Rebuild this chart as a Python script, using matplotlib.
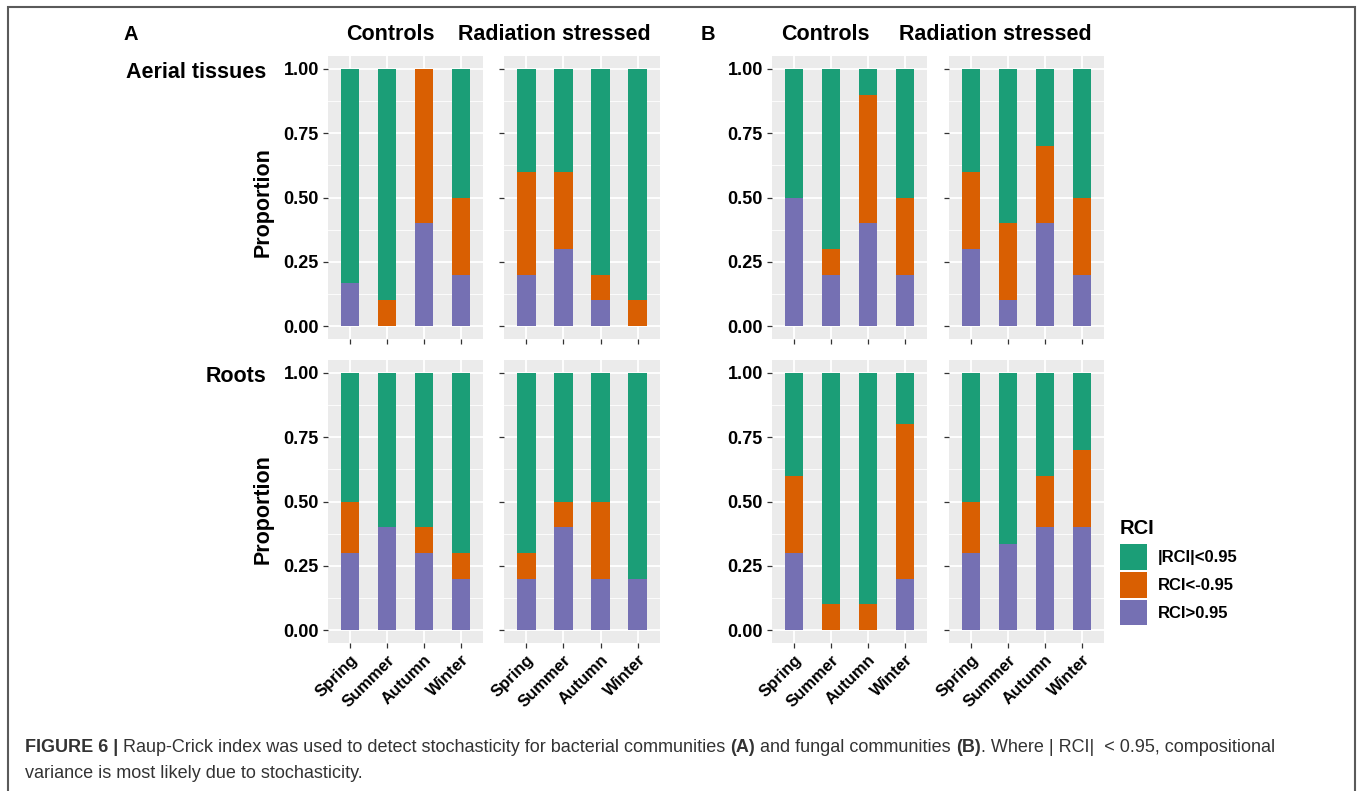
import numpy as np
import matplotlib
matplotlib.use("Agg")
import matplotlib.pyplot as plt
from matplotlib.patches import Patch, Rectangle

plt.rcParams['font.family'] = ['Liberation Sans', 'DejaVu Sans']

seasons = ['Spring', 'Summer', 'Autumn', 'Winter']
rci_labels = ['|RCI|<0.95', 'RCI<-0.95', 'RCI>0.95']
rci_colors = ['#1B9E77', '#D95F02', '#7570B3']

# proportion of pairwise comparisons in each RCI class, per season
# (A) bacteria, aerial tissues
bac_aer_ctrl_pos = [0.167, 0.0, 0.4, 0.2]
bac_aer_ctrl_neg = [0.0, 0.1, 0.6, 0.3]
bac_aer_ctrl_ns = [0.833, 0.9, 0.0, 0.5]
bac_aer_rad_pos = [0.2, 0.3, 0.1, 0.0]
bac_aer_rad_neg = [0.4, 0.3, 0.1, 0.1]
bac_aer_rad_ns = [0.4, 0.4, 0.8, 0.9]
# (A) bacteria, roots
bac_root_ctrl_pos = [0.3, 0.4, 0.3, 0.2]
bac_root_ctrl_neg = [0.2, 0.0, 0.1, 0.1]
bac_root_ctrl_ns = [0.5, 0.6, 0.6, 0.7]
bac_root_rad_pos = [0.2, 0.4, 0.2, 0.2]
bac_root_rad_neg = [0.1, 0.1, 0.3, 0.0]
bac_root_rad_ns = [0.7, 0.5, 0.5, 0.8]
# (B) fungi, aerial tissues
fun_aer_ctrl_pos = [0.5, 0.2, 0.4, 0.2]
fun_aer_ctrl_neg = [0.0, 0.1, 0.5, 0.3]
fun_aer_ctrl_ns = [0.5, 0.7, 0.1, 0.5]
fun_aer_rad_pos = [0.3, 0.1, 0.4, 0.2]
fun_aer_rad_neg = [0.3, 0.3, 0.3, 0.3]
fun_aer_rad_ns = [0.4, 0.6, 0.3, 0.5]
# (B) fungi, roots
fun_root_ctrl_pos = [0.3, 0.0, 0.0, 0.2]
fun_root_ctrl_neg = [0.3, 0.1, 0.1, 0.6]
fun_root_ctrl_ns = [0.4, 0.9, 0.9, 0.2]
fun_root_rad_pos = [0.3, 0.333, 0.4, 0.4]
fun_root_rad_neg = [0.2, 0.0, 0.2, 0.3]
fun_root_rad_ns = [0.5, 0.667, 0.4, 0.3]

W, H = 1360, 791
fig = plt.figure(figsize=(W / 100, H / 100), dpi=100)


def px_rect(x0, x1, y0, y1):
    return [x0 / W, 1 - y1 / H, (x1 - x0) / W, (y1 - y0) / H]


def stacked(ax, pos, neg, ns, xlabels, ylabels):
    x = np.arange(1, len(seasons) + 1)
    pos, neg, ns = np.array(pos), np.array(neg), np.array(ns)
    ax.bar(x, pos, 0.5, color=rci_colors[2])
    ax.bar(x, neg, 0.5, bottom=pos, color=rci_colors[1])
    ax.bar(x, ns, 0.5, bottom=pos + neg, color=rci_colors[0])
    ax.set_facecolor('#EBEBEB')
    ax.set_xlim(0.4, 4.6)
    ax.set_ylim(-0.05, 1.05)
    ax.set_xticks(x)
    ax.set_yticks([0, 0.25, 0.5, 0.75, 1.0])
    ax.set_yticks([0.125, 0.375, 0.625, 0.875], minor=True)
    ax.grid(which='major', color='white', lw=1.3)
    ax.grid(which='minor', axis='y', color='white', lw=0.6)
    ax.set_axisbelow(True)
    for s in ax.spines.values():
        s.set_visible(False)
    ax.tick_params(which='major', length=3.5, width=0.9, color='#333333',
                   labelsize=13, pad=3)
    ax.tick_params(which='minor', length=0)
    if xlabels:
        ax.set_xticklabels(seasons, rotation=45, ha='right',
                           rotation_mode='anchor', fontweight='bold',
                           fontsize=12)
    else:
        ax.set_xticklabels([])
    if ylabels:
        ax.set_yticklabels(['0.00', '0.25', '0.50', '0.75', '1.00'],
                           fontweight='bold')
    else:
        ax.set_yticklabels([])


cols = [(328, 483), (504, 660), (772, 927), (949, 1104)]
rows = [(56, 339), (360, 643)]

panels = [
    (0, 0, bac_aer_ctrl_pos, bac_aer_ctrl_neg, bac_aer_ctrl_ns),
    (0, 1, bac_aer_rad_pos, bac_aer_rad_neg, bac_aer_rad_ns),
    (0, 2, fun_aer_ctrl_pos, fun_aer_ctrl_neg, fun_aer_ctrl_ns),
    (0, 3, fun_aer_rad_pos, fun_aer_rad_neg, fun_aer_rad_ns),
    (1, 0, bac_root_ctrl_pos, bac_root_ctrl_neg, bac_root_ctrl_ns),
    (1, 1, bac_root_rad_pos, bac_root_rad_neg, bac_root_rad_ns),
    (1, 2, fun_root_ctrl_pos, fun_root_ctrl_neg, fun_root_ctrl_ns),
    (1, 3, fun_root_rad_pos, fun_root_rad_neg, fun_root_rad_ns),
]
for r, c, pos, neg, ns in panels:
    ax = fig.add_axes(px_rect(cols[c][0], cols[c][1], rows[r][0], rows[r][1]))
    stacked(ax, pos, neg, ns, xlabels=(r == 1), ylabels=(c in (0, 2)))


def ftext(x, y, s, **kw):
    kw.setdefault('fontweight', 'bold')
    kw.setdefault('va', 'center')
    return fig.text(x / W, 1 - y / H, s, **kw)


ftext(131, 35, 'A', fontsize=14.5, ha='center')
ftext(708, 35, 'B', fontsize=14.5, ha='center')
for cx, t in [(390, 'Controls'), (554, 'Radiation stressed'),
              (825, 'Controls'), (995, 'Radiation stressed')]:
    ftext(cx, 34, t, fontsize=15.5, ha='center')
ftext(266, 72, 'Aerial tissues', fontsize=15.5, ha='right')
ftext(266, 377, 'Roots', fontsize=15.5, ha='right')
ftext(263, 202, 'Proportion', fontsize=15.5, ha='center', rotation=90)
ftext(263, 509, 'Proportion', fontsize=15.5, ha='center', rotation=90)

# legend
ftext(1120, 528, 'RCI', fontsize=14.5, ha='left')
handles = [Patch(facecolor=c, edgecolor='none') for c in rci_colors]
fig.legend(handles, rci_labels, loc='upper left',
           bbox_to_anchor=(1120 / W, 1 - 544 / H), frameon=False,
           borderpad=0, borderaxespad=0, handlelength=1.62, handleheight=2.0,
           labelspacing=0.12, handletextpad=0.65,
           prop={'weight': 'bold', 'size': 12})

# frame around the figure
fig.add_artist(Rectangle((8 / W, -0.05), (1355 - 8) / W, 1 - 7 / H + 0.05,
                         transform=fig.transFigure, fill=False,
                         ec='#5a5a5a', lw=1.5))

# caption, written piece by piece to mix bold and regular weights
renderer = fig.canvas.get_renderer()
cap_size = 13
cap_color = '#333333'


def text_width(s, weight):
    t = fig.text(0, 0, s, fontsize=cap_size, fontweight=weight)
    w = t.get_window_extent(renderer).width
    t.remove()
    return w


space_w = text_width('x x', 'normal') - text_width('xx', 'normal')

line1 = [('FIGURE 6 |', 'bold'),
         ('Raup-Crick index was used to detect stochasticity for bacterial communities', 'normal'),
         ('(A)', 'bold'),
         ('and fungal communities', 'normal'),
         ('(B)', 'bold'),
         ('. Where | RCI|  < 0.95, compositional', 'normal')]
x = 25.0
for i, (s, wgt) in enumerate(line1):
    if i > 0 and not s.startswith('.'):
        x += space_w
    ftext(x, 747, s, fontsize=cap_size, fontweight=wgt, ha='left',
          color=cap_color)
    x += text_width(s, wgt)
ftext(25, 773, 'variance is most likely due to stochasticity.',
      fontsize=cap_size, fontweight='normal', ha='left', color=cap_color)

fig.savefig('out.png', dpi=100)
